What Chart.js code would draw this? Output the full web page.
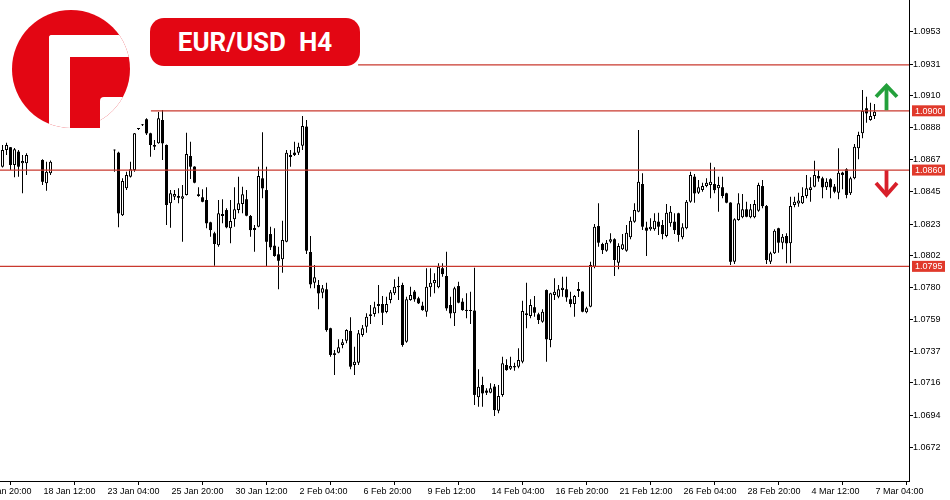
<!DOCTYPE html>
<html><head><meta charset="utf-8">
<script src="https://cdn.jsdelivr.net/npm/chart.js@4/dist/chart.umd.min.js"></script>
<style>
html,body{margin:0;padding:0;background:#fff;}
#wrap{position:relative;width:950px;height:500px;overflow:hidden;background:#fff;}
canvas{position:absolute;left:0;top:0;}
#logo{position:absolute;left:0;top:0;}
#title{position:absolute;left:150px;top:18px;width:210px;height:48px;border-radius:14px;background:#e30613;color:#fff;
 font:700 26px Roboto,"Open Sans",sans-serif;display:flex;align-items:center;justify-content:center;white-space:pre;}
</style></head>
<body>
<div id="wrap">
<canvas id="c" width="950" height="500"></canvas>
<svg id="logo" width="140" height="135" viewBox="0 0 140 135">
 <defs><clipPath id="cc"><circle cx="71" cy="69" r="59"/></clipPath></defs>
 <g clip-path="url(#cc)">
  <rect x="0" y="0" width="140" height="135" fill="#e30613"/>
  <rect x="49" y="35" width="21" height="100" rx="3" fill="#fff"/>
  <rect x="49" y="35" width="91" height="22" rx="3" fill="#fff"/>
  <rect x="100" y="97" width="40" height="40" rx="4" fill="#fff"/>
 </g>
 <rect x="70" y="100" width="30" height="28" fill="#e30613"/>
</svg>
<div id="title">EUR/USD  H4</div>
</div>
<script>
// ---- data (EUR/USD H4 candles, one entry per bar; null = no candle drawn) ----
const open = [
1.08619,1.08731,1.08750,1.08630,1.08720,1.08642,1.08642,null,null,null,
1.08664,1.08507,1.08574,null,null,null,null,null,null,null,
null,null,null,null,null,null,null,null,1.08728,1.08713,
1.08291,1.08473,1.08551,1.08596,1.08873,1.08898,1.08939,1.08844,1.08754,1.08777,
1.08934,1.08765,1.08372,1.08416,1.08421,1.08403,1.08428,1.08691,1.08619,1.08432,
1.08412,1.08394,1.08243,1.08169,1.08088,1.08286,1.08326,1.08203,1.08264,1.08326,
1.08367,1.08399,1.08286,1.08191,1.08214,1.08540,1.08461,1.08164,1.08085,1.08027,
1.07994,1.08112,1.08684,1.08713,1.08713,1.08760,1.08889,1.08043,1.07836,1.07820,
1.07768,1.07791,1.07528,1.07359,1.07363,1.07415,1.07444,1.07510,1.07280,1.07296,
1.07483,1.07539,1.07611,1.07624,1.07678,1.07692,1.07638,1.07719,1.07764,1.07805,
1.07820,1.07437,1.07719,1.07775,1.07730,1.07680,1.07640,1.07805,1.07832,1.07805,
1.07933,1.07881,1.07685,1.07629,1.07813,1.07707,1.07651,1.07645,1.07647,1.07062,
1.07145,1.07107,1.07093,1.07134,1.06972,1.07078,1.07280,1.07255,1.07273,1.07269,
1.07302,1.07618,1.07611,1.07670,1.07622,1.07572,1.07786,1.07449,1.07753,1.07741,
1.07786,1.07791,1.07724,1.07692,1.07780,1.07775,1.07636,1.07674,1.07944,1.08218,
1.08097,1.08052,1.08112,1.08129,1.07971,1.08061,1.08052,1.08142,1.08247,1.08315,
1.08502,1.08207,1.08196,1.08196,1.08247,1.08225,1.08151,1.08237,1.08247,1.08304,
1.08142,1.08203,1.08382,1.08551,1.08443,1.08461,1.08488,1.08495,1.08502,1.08473,
1.08480,1.08439,1.08376,1.07977,1.08259,1.08277,1.08331,1.08277,1.08277,1.08322,
1.08488,1.08353,1.07977,1.08034,1.08203,1.08106,1.08151,1.08102,1.08360,1.08370,
1.08372,1.08421,1.08461,1.08484,1.08556,1.08540,1.08480,1.08534,1.08484,1.08443,
1.08578,1.08601,1.08439,1.08540,1.08743,1.08844,1.09013,1.08934,1.08961];
const high = [
1.08765,1.08781,1.08752,1.08745,1.08731,1.08698,1.08709,null,null,null,
1.08669,1.08652,1.08661,null,null,null,null,null,null,null,
null,null,null,null,null,null,null,null,1.08735,1.08720,
1.08540,1.08585,1.08652,1.08846,1.08880,1.08907,1.08945,1.08848,1.08799,1.08988,
1.09001,1.08769,1.08461,1.08461,1.08473,1.08495,1.08848,1.08787,1.08622,1.08480,
1.08466,1.08480,1.08247,1.08180,1.08394,1.08399,1.08338,1.08394,1.08480,1.08551,
1.08484,1.08461,1.08293,1.08225,1.08619,1.08851,1.08619,1.08214,1.08203,1.08079,
1.08254,1.08731,1.08731,1.08787,1.08781,1.08961,1.08934,1.08151,1.07955,1.07854,
1.07820,1.07836,1.07531,1.07381,1.07454,1.07456,1.07521,1.07602,1.07404,1.07516,
1.07550,1.07629,1.07685,1.07707,1.07820,1.07746,1.07741,1.07786,1.07859,1.07876,
1.07836,1.07741,1.07809,1.07786,1.07741,1.07707,1.07933,1.07933,1.07899,1.07967,
1.07967,1.08045,1.07741,1.07809,1.07842,1.07730,1.07764,1.07775,1.07937,1.07251,
1.07201,1.07123,1.07157,1.07152,1.07145,1.07336,1.07319,1.07336,1.07296,1.07393,
1.07714,1.07836,1.07724,1.07746,1.07633,1.07656,1.07790,1.07768,1.07865,1.07820,
1.07876,1.07876,1.07775,1.07753,1.07840,1.07778,1.07674,1.07977,1.08232,1.08372,
1.08106,1.08124,1.08169,1.08135,1.08102,1.08164,1.08225,1.08281,1.08372,1.08866,
1.08574,1.08247,1.08270,1.08304,1.08308,1.08259,1.08367,1.08353,1.08304,1.08308,
1.08237,1.08394,1.08585,1.08569,1.08529,1.08511,1.08540,1.08646,1.08615,1.08551,
1.08551,1.08443,1.08379,1.08270,1.08439,1.08434,1.08382,1.08367,1.08394,1.08511,
1.08529,1.08360,1.08045,1.08196,1.08207,1.08164,1.08169,1.08416,1.08416,1.08443,
1.08480,1.08563,1.08547,1.08659,1.08596,1.08551,1.08540,1.08540,1.08502,1.08743,
1.08585,1.08608,1.08551,1.08772,1.08855,1.09136,1.09091,1.09051,1.09042];
const low = [
1.08613,1.08698,1.08596,1.08547,1.08551,1.08439,1.08563,null,null,null,
1.08495,1.08457,1.08563,null,null,null,null,null,null,null,
null,null,null,null,null,null,null,null,1.08585,1.08210,
1.08286,1.08461,1.08546,1.08585,1.08866,1.08893,1.08833,1.08686,1.08731,1.08773,
1.08664,1.08225,1.08207,1.08394,1.08372,1.08112,1.08424,1.08536,1.08507,1.08416,
1.08379,1.08203,1.08146,1.07950,1.08079,1.08237,1.08203,1.08102,1.08214,1.08304,
1.08304,1.08285,1.08146,1.08045,1.08210,1.08405,1.07944,1.08056,1.08011,1.07791,
1.07903,1.08109,1.08619,1.08691,1.08698,1.08731,1.08029,1.07798,1.07798,1.07656,
1.07730,1.07505,1.07336,1.07213,1.07359,1.07393,1.07427,1.07251,1.07213,1.07280,
1.07471,1.07498,1.07557,1.07606,1.07629,1.07550,1.07629,1.07697,1.07753,1.07719,
1.07404,1.07431,1.07714,1.07707,1.07692,1.07647,1.07606,1.07741,1.07764,1.07798,
1.07876,1.07647,1.07595,1.07543,1.07697,1.07647,1.07595,1.07557,1.07010,1.06999,
1.06999,1.07078,1.07089,1.06936,1.06954,1.07066,1.07242,1.07246,1.07242,1.07258,
1.07292,1.07528,1.07595,1.07606,1.07557,1.07566,1.07302,1.07400,1.07719,1.07730,
1.07741,1.07707,1.07670,1.07606,1.07739,1.07636,1.07629,1.07670,1.07933,1.08079,
1.08029,1.08045,1.08102,1.07881,1.07926,1.08056,1.08045,1.08129,1.08241,1.08312,
1.08191,1.08016,1.08187,1.08187,1.08158,1.08129,1.08142,1.08214,1.08164,1.08112,
1.08129,1.08196,1.08376,1.08376,1.08434,1.08450,1.08480,1.08405,1.08439,1.08315,
1.08405,1.08372,1.07955,1.07962,1.08254,1.08270,1.08277,1.08270,1.08270,1.08315,
1.08338,1.07962,1.07962,1.08029,1.08038,1.08061,1.07967,1.07967,1.08345,1.08349,
1.08367,1.08405,1.08382,1.08480,1.08517,1.08405,1.08461,1.08405,1.08439,1.08399,
1.08466,1.08405,1.08428,1.08534,1.08669,1.08810,1.08916,1.08929,1.08940];
const close = [
1.08731,1.08765,1.08630,1.08736,1.08619,1.08657,1.08698,null,null,null,
1.08517,1.08585,1.08652,null,null,null,null,null,null,null,
null,null,null,null,null,null,null,null,1.08731,1.08304,
1.08522,1.08563,1.08601,1.08844,1.08875,1.08900,1.08844,1.08765,1.08765,1.08945,
1.08777,1.08360,1.08439,1.08434,1.08409,1.08419,1.08704,1.08619,1.08511,1.08421,
1.08382,1.08237,1.08191,1.08097,1.08304,1.08299,1.08210,1.08252,1.08331,1.08372,
1.08432,1.08288,1.08191,1.08205,1.08556,1.08473,1.08112,1.08075,1.08016,1.07984,
1.08124,1.08713,1.08698,1.08698,1.08754,1.08893,1.08052,1.07825,1.07872,1.07764,
1.07798,1.07516,1.07348,1.07348,1.07400,1.07433,1.07516,1.07269,1.07302,1.07494,
1.07528,1.07606,1.07622,1.07670,1.07692,1.07633,1.07692,1.07771,1.07809,1.07813,
1.07415,1.07724,1.07753,1.07724,1.07697,1.07651,1.07809,1.07836,1.07854,1.07944,
1.07894,1.07663,1.07629,1.07798,1.07701,1.07651,1.07645,1.07651,1.07078,1.07134,
1.07089,1.07093,1.07123,1.06976,1.07071,1.07292,1.07246,1.07273,1.07265,1.07314,
1.07645,1.07629,1.07685,1.07633,1.07584,1.07640,1.07454,1.07764,1.07775,1.07791,
1.07802,1.07737,1.07692,1.07746,1.07793,1.07640,1.07663,1.07955,1.08214,1.08106,
1.08056,1.08106,1.08129,1.07989,1.08083,1.08095,1.08173,1.08254,1.08326,1.08517,
1.08214,1.08187,1.08214,1.08254,1.08214,1.08164,1.08308,1.08315,1.08191,1.08158,
1.08210,1.08382,1.08563,1.08439,1.08480,1.08488,1.08511,1.08517,1.08461,1.08495,
1.08421,1.08376,1.07977,1.08264,1.08372,1.08331,1.08281,1.08331,1.08367,1.08495,
1.08353,1.07989,1.08034,1.08187,1.08106,1.08146,1.08102,1.08353,1.08382,1.08391,
1.08421,1.08473,1.08480,1.08563,1.08540,1.08480,1.08517,1.08480,1.08450,1.08578,
1.08563,1.08428,1.08540,1.08754,1.08833,1.08997,1.08979,1.08961,1.08990];

const xTickLabels = ["15 Jan 20:00","18 Jan 12:00","23 Jan 04:00","25 Jan 20:00","30 Jan 12:00","2 Feb 04:00","6 Feb 20:00","9 Feb 12:00","14 Feb 04:00","16 Feb 20:00","21 Feb 12:00","26 Feb 04:00","28 Feb 20:00","4 Mar 12:00","7 Mar 04:00"];
const xTickBars = [-6,10,26,42,58,74,90,106,122,138,154,170,186,202,218];
const yTickLabels = ["1.0953","1.0931","1.0910","1.0888","1.0867","1.0845","1.0823","1.0802","1.0780","1.0759","1.0737","1.0716","1.0694","1.0672"];
const levels = [1.0931, 1.0900, 1.0860, 1.0795];

// ---- build datasets ----
const wicks = [], bullBodies = [], bearBodies = [];
open.forEach((o, i) => {
  if (o == null) return;
  wicks.push({x: i, y: [low[i], high[i]]});
  (close[i] >= o ? bullBodies : bearBodies).push({x: i, y: [o, close[i]]});
});

const levelStyle = { startBar: [88.9, 37.1, null, null], tag: [false, true, true, true] };
const FONT = '"Liberation Sans", Arial, sans-serif';

const overlay = {
  id: 'overlay',
  afterDraw(chart) {
    const {ctx, chartArea, scales: {x, y}} = chart;
    ctx.save();
    levels.forEach((lv, k) => {
      const py = y.getPixelForValue(lv) + 0.6;
      const sb = levelStyle.startBar[k];
      const x0 = sb == null ? chartArea.left : x.getPixelForValue(sb);
      ctx.strokeStyle = '#c9382e';
      ctx.lineWidth = 1.3;
      ctx.beginPath(); ctx.moveTo(x0, py); ctx.lineTo(chartArea.right, py); ctx.stroke();
      if (levelStyle.tag[k]) {
        ctx.fillStyle = '#e0392b';
        ctx.fillRect(chartArea.right + 3, py - 5.5, 33, 11);
        ctx.fillStyle = '#fff';
        ctx.font = '9px ' + FONT;
        ctx.textBaseline = 'middle';
        ctx.textAlign = 'left';
        ctx.fillText(lv.toFixed(4), chartArea.right + 6, py + 0.5);
      }
    });
    // arrows
    const ax = x.getPixelForValue(221);
    const up = y.getPixelForValue(levels[1]);
    const dn = y.getPixelForValue(levels[2]);
    ctx.lineWidth = 3.8; ctx.lineCap = 'butt'; ctx.lineJoin = 'miter';
    ctx.strokeStyle = '#23a03b';
    ctx.beginPath(); ctx.moveTo(ax, up); ctx.lineTo(ax, up - 24); ctx.stroke();
    ctx.beginPath(); ctx.moveTo(ax - 10.5, up - 13.5); ctx.lineTo(ax, up - 24.5); ctx.lineTo(ax + 10.5, up - 13.5); ctx.stroke();
    ctx.strokeStyle = '#d81f2a';
    ctx.beginPath(); ctx.moveTo(ax, dn + 1); ctx.lineTo(ax, dn + 25); ctx.stroke();
    ctx.beginPath(); ctx.moveTo(ax - 10.5, dn + 13.5); ctx.lineTo(ax, dn + 25.5); ctx.lineTo(ax + 10.5, dn + 13.5); ctx.stroke();
    ctx.restore();
  }
};

new Chart(document.getElementById('c'), {
  type: 'bar',
  data: { datasets: [
    {data: bullBodies, backgroundColor: '#fff', borderColor: '#000', borderWidth: 1, borderSkipped: false,
     barThickness: 3, grouped: false, order: 1, inflateAmount: 0, minBarLength: 1},
    {data: bearBodies, backgroundColor: '#000', borderWidth: 0, barThickness: 3, grouped: false,
     order: 2, inflateAmount: 0, minBarLength: 1},
    {data: wicks, backgroundColor: '#000', borderWidth: 0, barThickness: 1, grouped: false,
     order: 3, inflateAmount: 0}
  ]},
  options: {
    responsive: false, animation: false, devicePixelRatio: 1, events: [],
    layout: {padding: 0},
    plugins: {legend: {display: false}, tooltip: {enabled: false}},
    scales: {
      x: {
        type: 'linear', min: -0.625, max: 226.625, offset: false,
        grid: {drawOnChartArea: false, drawTicks: true, tickLength: 4, color: '#000', tickColor: '#000'},
        border: {display: true, color: '#000', width: 1},
        ticks: {autoSkip: false, maxRotation: 0, minRotation: 0, align: 'start', labelOffset: 1, padding: 1,
                color: '#000', font: {family: FONT, size: 9}, callback: (v, i) => xTickLabels[i]},
        afterBuildTicks: s => { s.ticks = xTickBars.map(v => ({value: v})); },
        afterFit: s => { s.height = 19; s.paddingLeft = 0; s.paddingRight = 0; s.paddingTop = 0; s.paddingBottom = 0; }
      },
      y: {
        type: 'linear', position: 'right', min: 1.06497, max: 1.09744,
        grid: {drawOnChartArea: false, drawTicks: true, tickLength: 4, color: '#000', tickColor: '#000'},
        border: {display: true, color: '#000', width: 1},
        ticks: {padding: 0, color: '#000', font: {family: FONT, size: 9}, callback: (v, i) => yTickLabels[i]},
        afterBuildTicks: s => { s.ticks = yTickLabels.map(t => ({value: parseFloat(t)})); },
        afterFit: s => { s.width = 41; s.paddingTop = 0; s.paddingBottom = 0; s.paddingLeft = 0; s.paddingRight = 0; }
      }
    }
  },
  plugins: [overlay]
});
</script>
</body></html>
